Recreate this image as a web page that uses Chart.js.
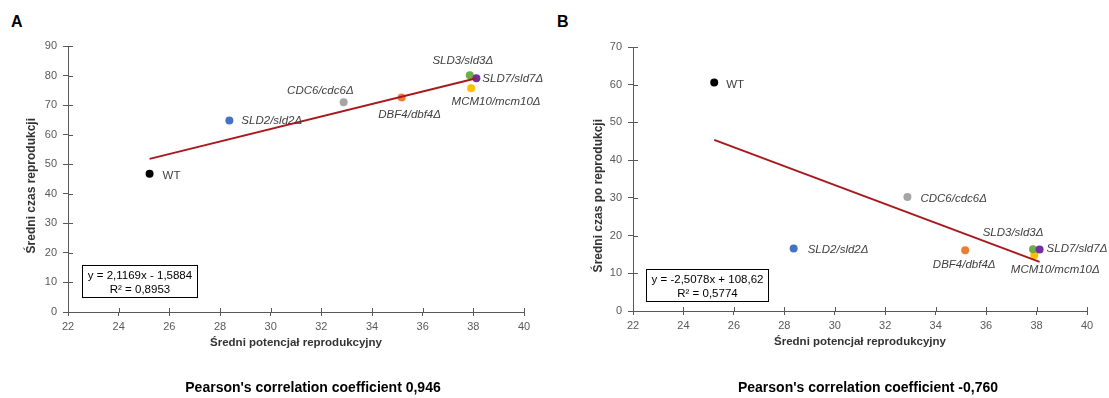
<!DOCTYPE html>
<html lang="pl">
<head>
<meta charset="utf-8">
<title>Potencjał reprodukcyjny a czas reprodukcji</title>
<script src="https://cdn.jsdelivr.net/npm/chart.js@4.4.1/dist/chart.umd.min.js"></script>
<style>
  html, body { margin: 0; padding: 0; background: #fff; }
  #wrap { position: relative; width: 1109px; height: 398px; overflow: hidden; font-family: Arial, 'Liberation Sans', sans-serif; }
  canvas { position: absolute; top: 0; }
  .tag { position: absolute; top: 14px; font: bold 16px/16px Arial, 'Liberation Sans', sans-serif; color: #000; }
  .caption { position: absolute; top: 379px; width: 400px; text-align: center; font: bold 14px/16px Arial, 'Liberation Sans', sans-serif; color: #000; }
</style>
</head>
<body>
<div id="wrap">
  <div class="tag" style="left:11px">A</div>
  <div class="tag" style="left:557px">B</div>
  <canvas id="chartA" style="left:0" width="555" height="398"></canvas>
  <canvas id="chartB" style="left:555px" width="554" height="398"></canvas>
  <div class="caption" id="captionA" style="left:113px"></div>
  <div class="caption" id="captionB" style="left:668px"></div>
</div>
<script>
// -----------------------
// Data
// -----------------------
const strains = ['WT', 'SLD2/sld2Δ', 'CDC6/cdc6Δ', 'DBF4/dbf4Δ', 'MCM10/mcm10Δ', 'SLD3/sld3Δ', 'SLD7/sld7Δ'];
const potential = [25.22, 28.37, 32.88, 35.17, 37.91, 37.86, 38.12];   // średni potencjał reprodukcyjny
const timeA = [46.8, 64.8, 71.0, 72.6, 75.7, 80.1, 79.1];              // średni czas reprodukcji
const timeB = [60.6, 16.6, 30.2, 16.1, 14.8, 16.4, 16.3];              // średni czas po reprodukcji
const strainColors = ['#000000', '#4472C4', '#A5A5A5', '#ED7D31', '#FFC000', '#70AD47', '#7030A0'];

const xTicks = [22, 24, 26, 28, 30, 32, 34, 36, 38, 40];
const yTicksA = [0, 10, 20, 30, 40, 50, 60, 70, 80, 90];
const yTicksB = [0, 10, 20, 30, 40, 50, 60, 70];

// linear fits (slope, intercept) and R²
const fitA = [2.1169, -1.5884];
const fitB = [-2.5078, 108.62];
const r2A = 0.8953;
const r2B = 0.5774;
const pearsonA = 0.946;
const pearsonB = -0.760;

// where each strain name sits next to its dot: [dx, dy, align]
const labelPosA = [[13, 2, 'left'], [12, 0, 'left'], [10, -11, 'right'], [8, 17, 'center'], [25, 14, 'center'], [-7, -14, 'center'], [6, 1, 'left']];
const labelPosB = [[12, 2, 'left'], [14, 1, 'left'], [13, 2, 'left'], [-1, 15, 'center'], [21, 15, 'center'], [-20, -16, 'center'], [7, -1, 'left']];

// -----------------------
// Style
// -----------------------
const FONT = "Arial, 'Liberation Sans', sans-serif";
const AXIS = '#595959';
const TEXT = '#404040';
const TREND = '#A8181D';

const comma = (v, d) => v.toFixed(d).replace('.', ',');

function equationLines(fit, r2) {
  const [a, b] = fit;
  const sign = b < 0 ? '-' : '+';
  const dec = s => (String(s).split('.')[1] || '').length;
  return [
    `y = ${comma(a, dec(a))}x ${sign} ${comma(Math.abs(b), dec(Math.abs(b)))}`,
    `R² = ${comma(r2, 4)}`
  ];
}

// -----------------------
// Plugin: inner tick marks, strain names, fit box, y title
// -----------------------
const strainNotes = {
  id: 'strainNotes',
  afterDatasetsDraw(chart, args, opts) {
    const { ctx, chartArea, scales: { x, y } } = chart;
    ctx.save();

    // tick marks crossing the axes
    ctx.strokeStyle = AXIS;
    ctx.lineWidth = 1;
    ctx.beginPath();
    x.ticks.forEach((t, i) => {
      const px = Math.round(x.getPixelForTick(i)) + 0.5;
      ctx.moveTo(px, chartArea.bottom);
      ctx.lineTo(px, chartArea.bottom - 4);
    });
    y.ticks.forEach((t, i) => {
      const py = Math.round(y.getPixelForTick(i)) + 0.5;
      ctx.moveTo(chartArea.left, py);
      ctx.lineTo(chartArea.left + 5, py);
    });
    ctx.stroke();

    // strain names
    const meta = chart.getDatasetMeta(1);
    ctx.fillStyle = TEXT;
    ctx.textBaseline = 'middle';
    meta.data.forEach((pt, i) => {
      const [dx, dy, align] = opts.positions[i];
      ctx.font = (i === 0 ? '' : 'italic ') + '11.5px ' + FONT;
      ctx.textAlign = align;
      ctx.fillText(strains[i], pt.x + dx, pt.y + dy);
    });

    // fit equation box
    ctx.font = '11.5px ' + FONT;
    ctx.textAlign = 'center';
    ctx.fillStyle = '#000';
    const lines = opts.equation;
    const w = Math.ceil(Math.max(...lines.map(l => ctx.measureText(l).width))) + 10;
    const h = 32;
    const bx = Math.round(chartArea.left + opts.boxLeft) + 0.5;
    const by = Math.round(chartArea.bottom - opts.boxBottom - h) + 0.5;
    ctx.fillStyle = '#fff';
    ctx.fillRect(bx, by, w, h);
    ctx.strokeStyle = '#000';
    ctx.strokeRect(bx, by, w, h);
    ctx.fillStyle = '#000';
    ctx.fillText(lines[0], bx + w / 2, by + 10);
    ctx.fillText(lines[1], bx + w / 2, by + 24);

    // vertical axis title
    ctx.font = 'bold 12px ' + FONT;
    ctx.fillStyle = '#333';
    ctx.translate(opts.titleX, chartArea.top + 72);
    ctx.rotate(-Math.PI / 2);
    ctx.textAlign = 'right';
    ctx.fillText(opts.yTitle, 0, 0);

    ctx.restore();
  }
};

// -----------------------
// Chart builder
// -----------------------
function buildChart(id, cfg) {
  const canvas = document.getElementById(id);
  const W = canvas.width, H = canvas.height;
  const points = potential.map((x, i) => ({ x, y: cfg.values[i] }));
  const xs = [Math.min(...potential), Math.max(...potential)];
  const trend = xs.map(x => ({ x, y: cfg.fit[0] * x + cfg.fit[1] }));
  const xScaleHeight = 40;

  return new Chart(canvas, {
    type: 'scatter',
    data: {
      datasets: [
        { type: 'line', data: trend, borderColor: TREND, borderWidth: 2, pointRadius: 0, fill: false, tension: 0 },
        { data: points, pointRadius: 4, pointHoverRadius: 4, pointBackgroundColor: strainColors, pointBorderWidth: 0, borderColor: 'rgba(0,0,0,0)' }
      ]
    },
    options: {
      responsive: false,
      animation: false,
      events: [],
      layout: {
        padding: { left: 0, top: cfg.area.top, right: W - cfg.area.right, bottom: H - cfg.area.bottom - xScaleHeight }
      },
      plugins: {
        legend: { display: false },
        tooltip: { enabled: false },
        strainNotes: {
          positions: cfg.labelPos,
          equation: equationLines(cfg.fit, cfg.r2),
          boxLeft: cfg.boxLeft,
          boxBottom: cfg.boxBottom,
          titleX: cfg.titleX,
          yTitle: cfg.yTitle
        }
      },
      scales: {
        x: {
          type: 'linear',
          min: xTicks[0],
          max: xTicks[xTicks.length - 1],
          ticks: { stepSize: xTicks[1] - xTicks[0], color: AXIS, font: { family: FONT, size: 11 }, padding: 4 },
          grid: { drawOnChartArea: false, tickLength: 4, color: AXIS },
          border: { color: AXIS },
          title: {
            display: true,
            text: 'Średni potencjał reprodukcyjny',
            color: '#333',
            font: { family: FONT, size: 11.5, weight: 'bold' },
            padding: { top: 0, bottom: 2 }
          },
          afterFit: s => { s.height = xScaleHeight; }
        },
        y: {
          type: 'linear',
          min: cfg.yTicks[0],
          max: cfg.yTicks[cfg.yTicks.length - 1],
          ticks: { stepSize: cfg.yTicks[1] - cfg.yTicks[0], color: AXIS, font: { family: FONT, size: 11 }, padding: 6 },
          grid: { drawOnChartArea: false, tickLength: 5, color: AXIS },
          border: { color: AXIS },
          afterFit: s => { s.width = cfg.area.left; }
        }
      }
    },
    plugins: [strainNotes]
  });
}

buildChart('chartA', {
  values: timeA,
  yTicks: yTicksA,
  fit: fitA,
  r2: r2A,
  labelPos: labelPosA,
  yTitle: 'Średni czas reprodukcji',
  titleX: 32,
  area: { left: 68, right: 524, top: 46, bottom: 312 },
  boxLeft: 14,
  boxBottom: 15
});

buildChart('chartB', {
  values: timeB,
  yTicks: yTicksB,
  fit: fitB,
  r2: r2B,
  labelPos: labelPosB,
  yTitle: 'Średni czas po reprodukcji',
  titleX: 44,
  area: { left: 78, right: 532, top: 47, bottom: 311 },
  boxLeft: 13,
  boxBottom: 10
});

document.getElementById('captionA').textContent = "Pearson's correlation coefficient " + comma(pearsonA, 3);
document.getElementById('captionB').textContent = "Pearson's correlation coefficient " + comma(pearsonB, 3);
</script>
</body>
</html>
